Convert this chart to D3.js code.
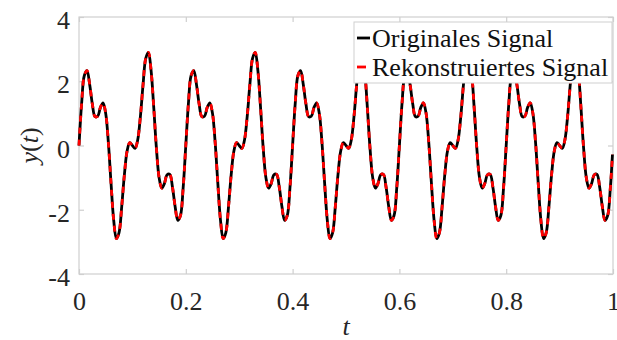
<!DOCTYPE html>
<html><head><meta charset="utf-8">
<script src="https://cdn.jsdelivr.net/npm/d3@7"></script>
<style>body{margin:0;background:#fff}svg{display:block}</style>
</head><body>
<svg id="chart" width="617" height="340"></svg>
<script>
// time samples
const tValues = [
0,0.005,0.01,0.015,0.02,0.025,0.03,0.035,0.04,0.045,0.05,0.055,0.06,0.065,0.07,0.075,0.08,0.085,0.09,0.095,
0.1,0.105,0.11,0.115,0.12,0.125,0.13,0.135,0.14,0.145,0.15,0.155,0.16,0.165,0.17,0.175,0.18,0.185,0.19,0.195,
0.2,0.205,0.21,0.215,0.22,0.225,0.23,0.235,0.24,0.245,0.25,0.255,0.26,0.265,0.27,0.275,0.28,0.285,0.29,0.295,
0.3,0.305,0.31,0.315,0.32,0.325,0.33,0.335,0.34,0.345,0.35,0.355,0.36,0.365,0.37,0.375,0.38,0.385,0.39,0.395,
0.4,0.405,0.41,0.415,0.42,0.425,0.43,0.435,0.44,0.445,0.45,0.455,0.46,0.465,0.47,0.475,0.48,0.485,0.49,0.495,
0.5,0.505,0.51,0.515,0.52,0.525,0.53,0.535,0.54,0.545,0.55,0.555,0.56,0.565,0.57,0.575,0.58,0.585,0.59,0.595,
0.6,0.605,0.61,0.615,0.62,0.625,0.63,0.635,0.64,0.645,0.65,0.655,0.66,0.665,0.67,0.675,0.68,0.685,0.69,0.695,
0.7,0.705,0.71,0.715,0.72,0.725,0.73,0.735,0.74,0.745,0.75,0.755,0.76,0.765,0.77,0.775,0.78,0.785,0.79,0.795,
0.8,0.805,0.81,0.815,0.82,0.825,0.83,0.835,0.84,0.845,0.85,0.855,0.86,0.865,0.87,0.875,0.88,0.885,0.89,0.895,
0.9,0.905,0.91,0.915,0.92,0.925,0.93,0.935,0.94,0.945,0.95,0.955,0.96,0.965,0.97,0.975,0.98,0.985,0.99,0.995,
0.999];

// original signal values
const yOriginal = [
0,1.33,2.18,2.33,1.90,1.29,0.90,0.91,1.18,1.33,1.00,0.09,-1.18,-2.33,-2.90,-2.71,-1.90,-0.91,-0.18,0.09,
0,-0.09,0.18,0.91,1.90,2.71,2.90,2.33,1.18,-0.09,-1.00,-1.33,-1.18,-0.91,-0.90,-1.29,-1.90,-2.33,-2.18,-1.33,
0,1.33,2.18,2.33,1.90,1.29,0.90,0.91,1.18,1.33,1.00,0.09,-1.18,-2.33,-2.90,-2.71,-1.90,-0.91,-0.18,0.09,
0,-0.09,0.18,0.91,1.90,2.71,2.90,2.33,1.18,-0.09,-1.00,-1.33,-1.18,-0.91,-0.90,-1.29,-1.90,-2.33,-2.18,-1.33,
0,1.33,2.18,2.33,1.90,1.29,0.90,0.91,1.18,1.33,1.00,0.09,-1.18,-2.33,-2.90,-2.71,-1.90,-0.91,-0.18,0.09,
0,-0.09,0.18,0.91,1.90,2.71,2.90,2.33,1.18,-0.09,-1.00,-1.33,-1.18,-0.91,-0.90,-1.29,-1.90,-2.33,-2.18,-1.33,
0,1.33,2.18,2.33,1.90,1.29,0.90,0.91,1.18,1.33,1.00,0.09,-1.18,-2.33,-2.90,-2.71,-1.90,-0.91,-0.18,0.09,
0,-0.09,0.18,0.91,1.90,2.71,2.90,2.33,1.18,-0.09,-1.00,-1.33,-1.18,-0.91,-0.90,-1.29,-1.90,-2.33,-2.18,-1.33,
0,1.33,2.18,2.33,1.90,1.29,0.90,0.91,1.18,1.33,1.00,0.09,-1.18,-2.33,-2.90,-2.71,-1.90,-0.91,-0.18,0.09,
0,-0.09,0.18,0.91,1.90,2.71,2.90,2.33,1.18,-0.09,-1.00,-1.33,-1.18,-0.91,-0.90,-1.29,-1.90,-2.33,-2.18,-1.33,
-0.28];

// reconstructed signal (coincides with the original)
const yReconstructed = [
0,1.33,2.18,2.33,1.90,1.29,0.90,0.91,1.18,1.33,1.00,0.09,-1.18,-2.33,-2.90,-2.71,-1.90,-0.91,-0.18,0.09,
0,-0.09,0.18,0.91,1.90,2.71,2.90,2.33,1.18,-0.09,-1.00,-1.33,-1.18,-0.91,-0.90,-1.29,-1.90,-2.33,-2.18,-1.33,
0,1.33,2.18,2.33,1.90,1.29,0.90,0.91,1.18,1.33,1.00,0.09,-1.18,-2.33,-2.90,-2.71,-1.90,-0.91,-0.18,0.09,
0,-0.09,0.18,0.91,1.90,2.71,2.90,2.33,1.18,-0.09,-1.00,-1.33,-1.18,-0.91,-0.90,-1.29,-1.90,-2.33,-2.18,-1.33,
0,1.33,2.18,2.33,1.90,1.29,0.90,0.91,1.18,1.33,1.00,0.09,-1.18,-2.33,-2.90,-2.71,-1.90,-0.91,-0.18,0.09,
0,-0.09,0.18,0.91,1.90,2.71,2.90,2.33,1.18,-0.09,-1.00,-1.33,-1.18,-0.91,-0.90,-1.29,-1.90,-2.33,-2.18,-1.33,
0,1.33,2.18,2.33,1.90,1.29,0.90,0.91,1.18,1.33,1.00,0.09,-1.18,-2.33,-2.90,-2.71,-1.90,-0.91,-0.18,0.09,
0,-0.09,0.18,0.91,1.90,2.71,2.90,2.33,1.18,-0.09,-1.00,-1.33,-1.18,-0.91,-0.90,-1.29,-1.90,-2.33,-2.18,-1.33,
0,1.33,2.18,2.33,1.90,1.29,0.90,0.91,1.18,1.33,1.00,0.09,-1.18,-2.33,-2.90,-2.71,-1.90,-0.91,-0.18,0.09,
0,-0.09,0.18,0.91,1.90,2.71,2.90,2.33,1.18,-0.09,-1.00,-1.33,-1.18,-0.91,-0.90,-1.29,-1.90,-2.33,-2.18,-1.33,
-0.28];

const xTicks = [0, 0.2, 0.4, 0.6, 0.8, 1];
const xTickLabels = ["0", "0.2", "0.4", "0.6", "0.8", "1"];
const yTicks = [-4, -2, 0, 2, 4];
const yTickLabels = ["-4", "-2", "0", "2", "4"];
const seriesNames = ["Originales Signal", "Rekonstruiertes Signal"];
const seriesColors = ["#000000", "#ff0000"];

const margin = {left: 79, right: 4, top: 17, bottom: 66};
const W = 617, H = 340;
const iw = W - margin.left - margin.right, ih = H - margin.top - margin.bottom;
const FONT = "'Liberation Serif','Times New Roman',serif";
const AXIS_COLOR = "#cfcfcf";
const TEXT_COLOR = "#262626";

const svg = d3.select("#chart");
const g = svg.append("g").attr("transform", `translate(${margin.left},${margin.top})`);

const x = d3.scaleLinear().domain([0, 1]).range([0, iw]);
const y = d3.scaleLinear().domain([-4, 4]).range([ih, 0]);

// box
g.append("rect").attr("x", 0).attr("y", 0).attr("width", iw).attr("height", ih)
  .attr("fill", "#fff").attr("stroke", AXIS_COLOR).attr("stroke-width", 1.2);

function styleAxis(sel, showText) {
  sel.select(".domain").remove();
  sel.selectAll(".tick line").attr("stroke", AXIS_COLOR).attr("stroke-width", 1.2);
  sel.selectAll(".tick text").attr("fill", TEXT_COLOR).style("font-family", FONT).style("font-size", "26px");
  if (!showText) sel.selectAll(".tick text").remove();
}

const xBottom = g.append("g").attr("transform", `translate(0,${ih})`)
  .call(d3.axisBottom(x).tickValues(xTicks).tickFormat((d, i) => xTickLabels[i]).tickSizeInner(-5).tickSizeOuter(0).tickPadding(18));
styleAxis(xBottom, true);
const xTop = g.append("g")
  .call(d3.axisTop(x).tickValues(xTicks).tickSizeInner(-5).tickSizeOuter(0));
styleAxis(xTop, false);
const yLeft = g.append("g")
  .call(d3.axisLeft(y).tickValues(yTicks).tickFormat((d, i) => yTickLabels[i]).tickSizeInner(-5).tickSizeOuter(0).tickPadding(9));
styleAxis(yLeft, true);
yLeft.selectAll(".tick text").attr("dy", "0.45em");
const yRight = g.append("g").attr("transform", `translate(${iw},0)`)
  .call(d3.axisRight(y).tickValues(yTicks).tickSizeInner(-5).tickSizeOuter(0));
styleAxis(yRight, false);

// lines
const pts1 = tValues.map((t, i) => [t, yOriginal[i]]);
const pts2 = tValues.map((t, i) => [t, yReconstructed[i]]);
const line = d3.line().x(d => x(d[0])).y(d => y(d[1])).curve(d3.curveCatmullRom.alpha(0.5));

g.append("path").datum(pts1).attr("d", line).attr("fill", "none")
  .attr("stroke", seriesColors[0]).attr("stroke-width", 2.8).attr("stroke-linejoin", "round");
g.append("path").datum(pts2).attr("d", line).attr("fill", "none")
  .attr("stroke", seriesColors[1]).attr("stroke-width", 2.8).attr("stroke-dasharray", "6,6");

// axis labels
svg.append("text").attr("x", margin.left + iw / 2).attr("y", 335).attr("text-anchor", "middle")
  .style("font-family", FONT).style("font-size", "26px").style("font-style", "italic").attr("fill", TEXT_COLOR).text("t");
svg.append("text").attr("transform", `translate(38,${margin.top + ih / 2}) rotate(-90)`).attr("text-anchor", "middle")
  .style("font-family", FONT).style("font-size", "26px").attr("fill", TEXT_COLOR)
  .call(t => {
    t.append("tspan").style("font-style", "italic").text("y");
    t.append("tspan").text("(");
    t.append("tspan").style("font-style", "italic").text("t");
    t.append("tspan").text(")");
  });

// legend
const lg = svg.append("g");
lg.append("rect").attr("x", 354).attr("y", 22).attr("width", 258).attr("height", 61)
  .attr("fill", "#fff").attr("stroke", AXIS_COLOR).attr("stroke-width", 1);
const rowY = [38, 67];
const rowBase = [47, 76];
lg.append("line").attr("x1", 357).attr("x2", 370).attr("y1", rowY[0]).attr("y2", rowY[0])
  .attr("stroke", seriesColors[0]).attr("stroke-width", 2.8);
lg.append("line").attr("x1", 357).attr("x2", 366).attr("y1", rowY[1]).attr("y2", rowY[1])
  .attr("stroke", seriesColors[1]).attr("stroke-width", 2.8);
seriesNames.forEach((name, i) => {
  lg.append("text").attr("x", 372).attr("y", rowBase[i]).style("font-family", FONT).style("font-size", "26px")
    .attr("fill", "#111").text(name);
});
</script>
</body></html>
